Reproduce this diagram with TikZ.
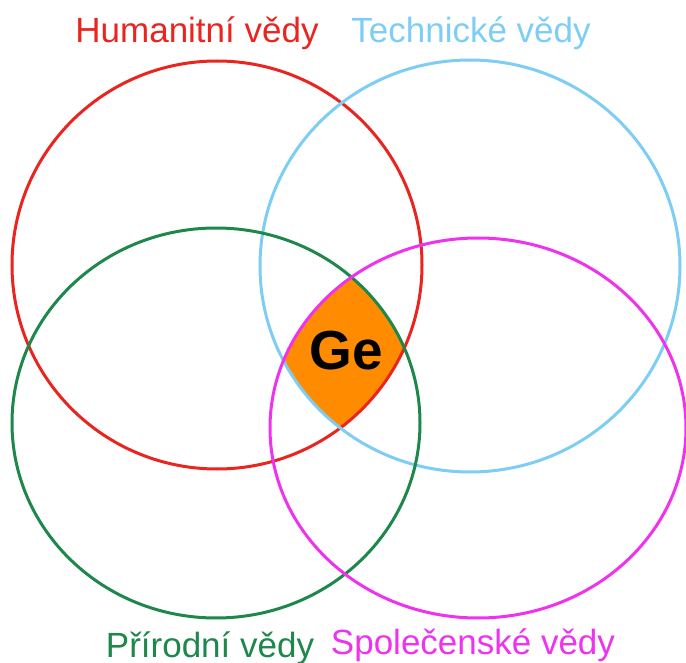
\documentclass[tikz,border=0pt]{standalone}
\usepackage{fontspec}
\setmainfont{Liberation Sans}
\definecolor{hred}{RGB}{234,36,30}
\definecolor{tblue}{RGB}{125,205,245}
\definecolor{pgreen}{RGB}{30,135,75}
\definecolor{smag}{RGB}{238,50,238}
\definecolor{georange}{RGB}{255,140,0}
\begin{document}
\begin{tikzpicture}[x=1pt,y=-1pt,
  ring/.style={line width=3pt},
  lab/.style={anchor=base, inner sep=0pt, font=\fontsize{35}{40}\selectfont}]
\useasboundingbox (0,0) rectangle (686,663);
\begin{scope}
  \clip (217,265) ellipse [x radius=205pt, y radius=204pt];
  \clip (470,266) ellipse [x radius=210pt, y radius=206pt];
  \clip (216,423) ellipse [x radius=204pt, y radius=195pt];
  \fill[georange] (478,428) ellipse [x radius=208pt, y radius=190pt];
\end{scope}
\draw[ring, hred] (217,265) ellipse [x radius=205pt, y radius=204pt];
\draw[ring, tblue] (470,266) ellipse [x radius=210pt, y radius=206pt];
\draw[ring, pgreen] (216,423) ellipse [x radius=204pt, y radius=195pt];
\draw[ring, smag] (478,428) ellipse [x radius=208pt, y radius=190pt];
\node[lab, text=hred] (hum) at (197,43) {Humanitní vědy};
\node[lab, text=tblue] (tech) at (471,43) {Technické vědy};
\node[lab, text=pgreen] (prir) at (210,657) {Přírodní vědy};
\node[lab, text=smag] (spol) at (473,654) {Společenské vědy};
\node[inner sep=0pt, font=\fontsize{55}{60}\selectfont\bfseries] (ge) at (346,351) {Ge};
\end{tikzpicture}
\end{document}
